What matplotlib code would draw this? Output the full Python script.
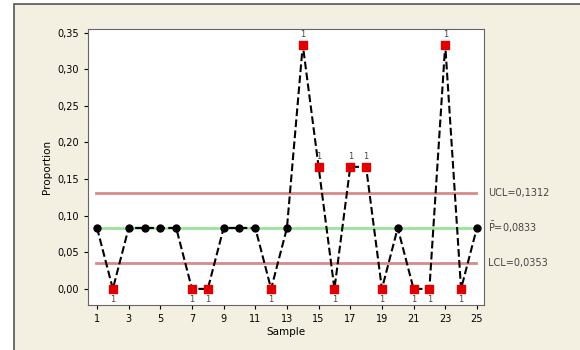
import numpy as np
import matplotlib.pyplot as plt

samples = list(range(1, 26))
proportion = [0.0833, 0.0, 0.0833, 0.0833, 0.0833, 0.0833, 0.0, 0.0, 0.0833, 0.0833,
              0.0833, 0.0, 0.0833, 0.3333, 0.1667, 0.0, 0.1667, 0.1667, 0.0, 0.0833,
              0.0, 0.0, 0.3333, 0.0, 0.0833]
ucl = 0.1312
center = 0.0833
lcl = 0.0353
xticks = list(range(1, 26, 2))
yticks = [0.00, 0.05, 0.10, 0.15, 0.20, 0.25, 0.30, 0.35]

fig = plt.figure(figsize=(5.8, 3.5), dpi=100)
fig.patch.set_facecolor("white")

# outer framed panel (background)
bg = fig.add_axes([0, 0, 1, 1], zorder=0)
bg.set_xlim(0, 580)
bg.set_ylim(350, 0)
bg.axis("off")
bg.add_patch(plt.Rectangle((14, 4), 600, 400, facecolor="#f3f0e2", edgecolor="#555555", lw=1.2))

ax = fig.add_axes([88 / 580, 45 / 350, 396 / 580, 276 / 350], zorder=1)
ax.set_facecolor("white")

ax.axhline(ucl, xmin=0.02, xmax=0.98, color="#d88a8a", lw=2, zorder=1)
ax.axhline(lcl, xmin=0.02, xmax=0.98, color="#d88a8a", lw=2, zorder=1)
ax.axhline(center, xmin=0.02, xmax=0.98, color="#9be39b", lw=2, zorder=1)

ax.plot(samples, proportion, color="black", ls="--", lw=1.5, marker="o", ms=5, zorder=2)

p = np.array(proportion)
s = np.array(samples)
out = (p > ucl) | (p < lcl)
ax.scatter(s[out], p[out], marker="s", s=40, color="#e00000", zorder=3)
for xi, yi in zip(s[out], p[out]):
    if yi > ucl:
        ax.text(xi, yi + 0.008, "1", ha="center", va="bottom", fontsize=6, color="#444444")
    else:
        ax.text(xi, yi - 0.008, "1", ha="center", va="top", fontsize=6, color="#444444")

ax.set_xlim(0.43, 25.45)
ax.set_ylim(-0.022, 0.355)
ax.set_xticks(xticks)
ax.set_yticks(yticks)
ax.set_yticklabels([f"{v:.2f}".replace(".", ",") for v in yticks])
ax.tick_params(labelsize=7, direction="out", length=3)
ax.set_xlabel("Sample", fontsize=7.5, labelpad=2)
ax.set_ylabel("Proportion", fontsize=7.5, labelpad=4)
for sp in ax.spines.values():
    sp.set_color("#666666")

ax.text(1.01, ucl, "UCL=0,1312", transform=ax.get_yaxis_transform(), va="center", fontsize=7, color="#444444")
ax.text(1.01, center, r"$\bar{\mathrm{P}}$=0,0833", transform=ax.get_yaxis_transform(), va="center", fontsize=7, color="#444444")
ax.text(1.01, lcl, "LCL=0,0353", transform=ax.get_yaxis_transform(), va="center", fontsize=7, color="#444444")

fig.savefig("out.png", dpi=100)
